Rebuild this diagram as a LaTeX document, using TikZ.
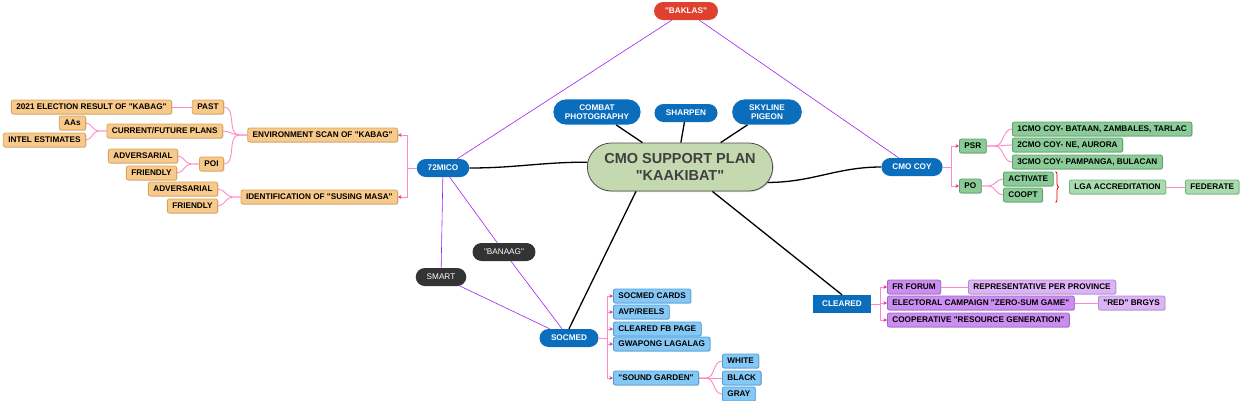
\documentclass[tikz,border=0pt]{standalone}
\usepackage{fontspec}
\setmainfont{Liberation Sans}[Ligatures=TeXOff]
\usepackage{tikz}
\usepackage{xcolor}
\usetikzlibrary{positioning,shapes.misc,arrows.meta,decorations.pathreplacing,shadows}

\definecolor{mapblue}{HTML}{0A6EBD}
\definecolor{mapred}{HTML}{E0402E}
\definecolor{mapdark}{HTML}{333333}
\definecolor{planfill}{HTML}{C5D9B0}
\definecolor{orangefill}{HTML}{F7C98A}
\definecolor{orangeline}{HTML}{D9A45C}
\definecolor{greenfill}{HTML}{8ACB97}
\definecolor{greenline}{HTML}{5AA36B}
\definecolor{lgreenfill}{HTML}{AADBB0}
\definecolor{lgreenline}{HTML}{6FB27A}
\definecolor{skyfill}{HTML}{85C8F5}
\definecolor{skyline}{HTML}{4A9FDC}
\definecolor{violetfill}{HTML}{CC8DF0}
\definecolor{violetline}{HTML}{A063C8}
\definecolor{lvioletfill}{HTML}{DCB3F5}
\definecolor{lvioletline}{HTML}{B38BD6}
\definecolor{pinkline}{HTML}{FF88C8}
\definecolor{pinkdark}{HTML}{E6338C}
\definecolor{purpleline}{HTML}{A020F0}

\newcommand{\boxfont}{\bfseries\fontsize{8.2}{9.5}\selectfont}

\begin{document}
\begin{tikzpicture}[x=1pt,y=-1pt,font=\boxfont,
		pill/.style={rounded rectangle, text=white, inner xsep=10.5pt, inner ysep=2pt, minimum height=18pt, align=center},
		bluepill/.style={pill, fill=mapblue},
		darkpill/.style={pill, fill=mapdark, font=\fontsize{8.2}{9.5}\selectfont},
		topic/.style={rectangle, rounded corners=2pt, line width=0.8pt, inner xsep=5pt, inner ysep=2pt, minimum height=14pt, text=black,
			drop shadow={shadow xshift=0.8pt, shadow yshift=-0.8pt, opacity=0.3}},
		orangebox/.style={topic, fill=orangefill, draw=orangeline},
		greenbox/.style={topic, fill=greenfill, draw=greenline},
		lgreenbox/.style={topic, fill=lgreenfill, draw=lgreenline},
		skybox/.style={topic, fill=skyfill, draw=skyline},
		violetbox/.style={topic, fill=violetfill, draw=violetline},
		lvioletbox/.style={topic, fill=lvioletfill, draw=lvioletline},
		spine/.style={draw=black, line width=1.3pt},
		thread/.style={draw=purpleline, line width=0.6pt},
		twig/.style={draw=pinkline, line width=0.9pt},
		branch/.style={twig, -{Stealth[length=3.5pt,width=3.5pt,color=pinkdark]}}]

		\useasboundingbox (0,0) rectangle (1240,400);

		% main topics
		\node[rounded rectangle, fill=planfill, draw=black!70, line width=0.8pt, minimum width=192pt, minimum height=48pt, align=center, text=black!75,
			font=\bfseries\fontsize{14.5}{16.5}\selectfont, drop shadow={shadow xshift=1pt, shadow yshift=-1pt, opacity=0.3}] (plan) at (680,167) {CMO SUPPORT PLAN\\"KAAKIBAT"};
		\node[bluepill, inner xsep=9pt, inner ysep=5pt] (combat) at (597,112) {COMBAT\\PHOTOGRAPHY};
		\node[bluepill, inner xsep=11pt] (sharpen) at (686,113) {SHARPEN};
		\node[bluepill, inner xsep=14.5pt, inner ysep=5pt] (skyline) at (767,112) {SKYLINE\\PIGEON};
		\node[pill, fill=mapred] (baklas) at (686,11) {"BAKLAS"};
		\node[bluepill] (mico) at (443,168) {72MICO};
		\node[bluepill] (cmocoy) at (912,167) {CMO COY};
		\node[bluepill, inner xsep=11pt] (socmed) at (569,338) {SOCMED};
		\node[rectangle, fill=mapblue, text=white, minimum width=58pt, minimum height=18pt] (cleared) at (842,304) {CLEARED};
		\node[darkpill, inner xsep=11pt] (banaag) at (504,252) {"BANAAG"};
		\node[darkpill] (smart) at (441,277) {SMART};

		\draw[spine] (mico.east) to[out=0,in=180] (plan.177);
		\draw[spine] (plan.350) to[out=0,in=180] (cmocoy.west);
		\draw[spine] (plan.209) -- (socmed.north);
		\draw[spine] (plan.323) -- (cleared.north);
		\draw[spine] (plan.147) -- (combat);
		\draw[spine] (plan.88) -- (sharpen);
		\draw[spine] (plan.31) -- (skyline);

		\draw[thread] (baklas) -- (mico);
		\draw[thread] (baklas) -- (cmocoy);
		\draw[thread] (mico) -- (smart);
		\draw[thread] (mico) -- (banaag);
		\draw[thread] (banaag) -- (socmed);
		\draw[thread] (smart) -- (socmed);

		% 72MICO
		\node[orangebox, anchor=east] (envscan) at (398,135) {ENVIRONMENT SCAN OF "KABAG"};
		\node[orangebox, anchor=east] (identif) at (398,197) {IDENTIFICATION OF "SUSING MASA"};
		\node[orangebox, anchor=east] (past) at (224,107) {PAST};
		\node[orangebox, anchor=east] (current) at (223,131) {CURRENT/FUTURE PLANS};
		\node[orangebox, anchor=east] (poi) at (224,164) {POI};
		\node[orangebox, anchor=east] (election) at (172,107) {2021 ELECTION RESULT OF "KABAG"};
		\node[orangebox, anchor=east] (aas) at (86,123) {AAs};
		\node[orangebox, anchor=east] (intel) at (86,140) {INTEL ESTIMATES};
		\node[orangebox, anchor=east] (advone) at (178,156) {ADVERSARIAL};
		\node[orangebox, anchor=east] (friendone) at (177,173) {FRIENDLY};
		\node[orangebox, anchor=east] (advtwo) at (218,189) {ADVERSARIAL};
		\node[orangebox, anchor=east] (friendtwo) at (218,206) {FRIENDLY};

		\draw[branch] (mico.west) -- ++(-9,0) |- (envscan.east);
		\draw[branch] (mico.west) -- ++(-9,0) |- (identif.east);
		\draw[twig] (envscan.west) -- ++(-8,0) to[out=180,in=0] (past.east);
		\draw[twig] (envscan.west) -- ++(-8,0) to[out=180,in=0] (current.east);
		\draw[twig] (envscan.west) -- ++(-8,0) to[out=180,in=0] (poi.east);
		\draw[twig] (past.west) -- (election.east);
		\draw[twig] (current.west) -- ++(-8,0) to[out=180,in=0] (aas.east);
		\draw[twig] (current.west) -- ++(-8,0) to[out=180,in=0] (intel.east);
		\draw[twig] (poi.west) -- ++(-8,0) to[out=180,in=0] (advone.east);
		\draw[twig] (poi.west) -- ++(-8,0) to[out=180,in=0] (friendone.east);
		\draw[twig] (identif.west) -- ++(-8,0) to[out=180,in=0] (advtwo.east);
		\draw[twig] (identif.west) -- ++(-8,0) to[out=180,in=0] (friendtwo.east);

		% CMO COY
		\node[greenbox, anchor=west] (psr) at (959,146) {PSR};
		\node[greenbox, anchor=west] (po) at (959,186) {PO};
		\node[greenbox, anchor=west] (cmoone) at (1012,129) {1CMO COY- BATAAN, ZAMBALES, TARLAC};
		\node[greenbox, anchor=west] (cmotwo) at (1012,145) {2CMO COY- NE, AURORA};
		\node[greenbox, anchor=west] (cmothree) at (1012,162) {3CMO COY- PAMPANGA, BULACAN};
		\node[greenbox, anchor=west] (activate) at (1003,179) {ACTIVATE};
		\node[greenbox, anchor=west] (coopt) at (1003,195) {COOPT};
		\node[lgreenbox, anchor=west] (lga) at (1069,187) {LGA ACCREDITATION};
		\node[lgreenbox, anchor=west] (federate) at (1185,187) {FEDERATE};

		\draw[branch] (cmocoy.east) -- ++(9,0) |- (psr.west);
		\draw[branch] (cmocoy.east) -- ++(9,0) |- (po.west);
		\draw[twig] (psr.east) -- ++(8,0) to[out=0,in=180] (cmoone.west);
		\draw[twig] (psr.east) -- ++(8,0) to[out=0,in=180] (cmotwo.west);
		\draw[twig] (psr.east) -- ++(8,0) to[out=0,in=180] (cmothree.west);
		\draw[twig] (po.east) -- ++(7,0) to[out=0,in=180] (activate.west);
		\draw[twig] (po.east) -- ++(7,0) to[out=0,in=180] (coopt.west);
		\draw[red!85!black, line width=0.8pt, decorate, decoration={brace, amplitude=3pt}] ([xshift=2pt]activate.north east) -- ([xshift=2pt]activate.east |- coopt.south);
		\draw[twig] (lga.east) -- (federate.west);

		% SOCMED
		\node[skybox, anchor=west] (cards) at (613,296) {SOCMED CARDS};
		\node[skybox, anchor=west] (reels) at (613,312) {AVP/REELS};
		\node[skybox, anchor=west] (fbpage) at (613,329) {CLEARED FB PAGE};
		\node[skybox, anchor=west] (gwapong) at (613,344) {GWAPONG LAGALAG};
		\node[skybox, anchor=west] (garden) at (613,378) {"SOUND GARDEN"};
		\node[skybox, anchor=west] (white) at (722,361) {WHITE};
		\node[skybox, anchor=west] (black) at (722,378) {BLACK};
		\node[skybox, anchor=west] (gray) at (722,394) {GRAY};

		\draw[branch] (socmed.east) -- ++(9,0) |- (cards.west);
		\draw[branch] (socmed.east) -- ++(9,0) |- (reels.west);
		\draw[branch] (socmed.east) -- ++(9,0) |- (fbpage.west);
		\draw[branch] (socmed.east) -- ++(9,0) |- (gwapong.west);
		\draw[branch] (socmed.east) -- ++(9,0) |- (garden.west);
		\draw[twig] (garden.east) -- ++(7,0) to[out=0,in=180] (white.west);
		\draw[twig] (garden.east) -- (black.west);
		\draw[twig] (garden.east) -- ++(7,0) to[out=0,in=180] (gray.west);

		% CLEARED
		\node[violetbox, anchor=west] (forum) at (887,287) {FR FORUM};
		\node[violetbox, anchor=west] (electoral) at (887,303) {ELECTORAL CAMPAIGN "ZERO-SUM GAME"};
		\node[violetbox, anchor=west] (coop) at (887,320) {COOPERATIVE "RESOURCE GENERATION"};
		\node[lvioletbox, anchor=west] (province) at (968,287) {REPRESENTATIVE PER PROVINCE};
		\node[lvioletbox, anchor=west] (brgys) at (1098,303) {"RED" BRGYS};

		\draw[branch] (cleared.east) -- ++(9,0) |- (forum.west);
		\draw[branch] (cleared.east) -- ++(9,0) |- (electoral.west);
		\draw[branch] (cleared.east) -- ++(9,0) |- (coop.west);
		\draw[twig] (forum.east) -- (province.west);
		\draw[twig] (electoral.east) -- (brgys.west);
\end{tikzpicture}
\end{document}
